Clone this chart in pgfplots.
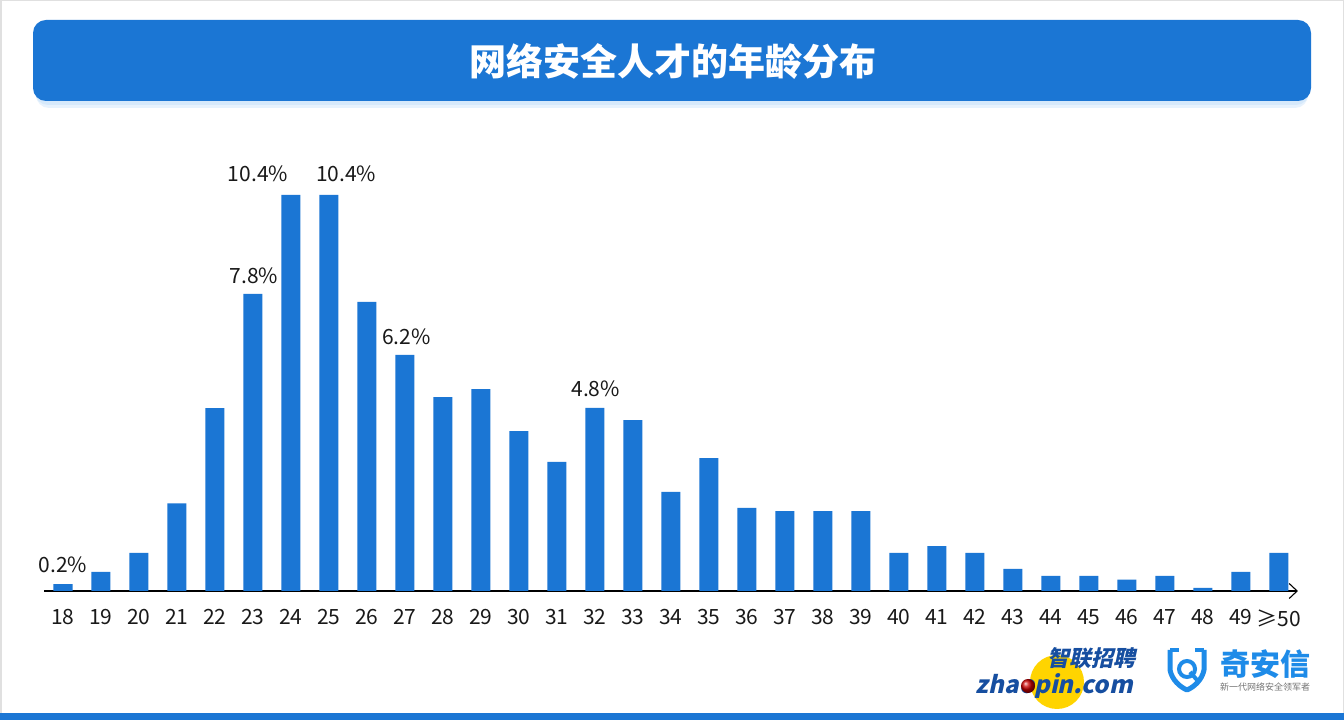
\documentclass[border=0pt]{standalone}
\usepackage{fontspec}
\setmainfont{Noto Sans CJK SC}
\usepackage{pgfplots}
\pgfplotsset{compat=1.18}
\usetikzlibrary{arrows.meta}

\definecolor{barblue}{RGB}{27,118,212}
\definecolor{shadowblue}{RGB}{214,233,251}
\definecolor{zpblue}{RGB}{22,78,160}
\definecolor{zpyellow}{RGB}{255,212,0}
\definecolor{qablue}{RGB}{30,139,232}

\begin{document}
\begin{tikzpicture}[x=1pt,y=1pt]
% page
\useasboundingbox (0,0) rectangle (1344,720);
\fill[white] (0,0) rectangle (1344,720);
\draw[black!12,line width=1.5pt] (0.75,0.75) rectangle (1343.25,719.25);
\fill[barblue] (0,0) rectangle (1344,7);

% title banner
\fill[shadowblue!60] (36,612) [rounded corners=13pt] rectangle (1308,692);
\fill[shadowblue] (35,615) [rounded corners=13pt] rectangle (1309,696);
\fill[barblue,rounded corners=13pt] (33,619) rectangle (1311,700);
\node[text=white,font=\fontsize{37}{42}\selectfont\bfseries] at (673,659) {网络安全人才的年龄分布};

\begin{axis}[
  at={(44pt,129pt)},anchor=south west,
  scale only axis,width=1254pt,height=457pt,
  xmin=-0.5,xmax=32.5,ymin=0,ymax=12,
  axis x line=bottom,axis y line=none,
  x axis line style={line width=1.3pt,-{Straight Barb[length=8pt,width=15pt,line width=1.1pt]}},
  xtick={0,...,32},
  xticklabels={18,19,20,21,22,23,24,25,26,27,28,29,30,31,32,33,34,35,36,37,38,39,40,41,42,43,44,45,46,47,48,49,≥50},
  major tick length=0pt,
  xticklabel style={font=\fontsize{21}{24}\selectfont,text=black!90,yshift=-15pt},
  clip=false,
]
\addplot[ybar,bar width=19pt,fill=barblue,draw=none] coordinates {
(0,0.18)(1,0.5)(2,1.0)(3,2.3)(4,4.8)(5,7.8)(6,10.4)(7,10.4)(8,7.59)(9,6.2)
(10,5.09)(11,5.3)(12,4.2)(13,3.39)(14,4.81)(15,4.49)(16,2.6)(17,3.49)(18,2.18)(19,2.1)
(20,2.1)(21,2.1)(22,1.0)(23,1.18)(24,1.0)(25,0.58)(26,0.4)(27,0.4)(28,0.3)(29,0.4)
(30,0.08)(31,0.5)(32,1.0)};
\begin{scope}[every node/.style={font=\fontsize{21}{24}\selectfont,text=black!90}]
\node at (axis cs:0,0.68) {0.2\%};
\node at (axis cs:5.13,10.95) {10.4\%};
\node at (axis cs:7.45,10.95) {10.4\%};
\node at (axis cs:5.02,8.27) {7.8\%};
\node at (axis cs:9.04,6.67) {6.2\%};
\node at (axis cs:14.02,5.31) {4.8\%};
\end{scope}
\end{axis}

% logos (approximate)
\fill[zpyellow] (1057,38) circle (27);
\node[inner sep=0pt,text=zpblue,font=\fontsize{22}{24}\selectfont\bfseries,xslant=0.22] at (1093,62) {智联招聘};
\node[inner sep=0pt,text=zpblue,font=\fontsize{24}{25}\selectfont\bfseries,xslant=0.22] at (1056,34) {zhaopin.com};
\shade[ball color=red!80!black] (1028,34) circle (7);

\begin{scope}[qablue]
\draw[line width=5pt,line join=round] (1170,70) -- (1170,50) .. controls (1172,40) and (1180,33) .. (1187,30)
  .. controls (1194,33) and (1202,40) .. (1204,50) -- (1204,70);
\draw[line width=4pt] (1170,70) -- (1179,70) (1195,70) -- (1204,70);
\draw[line width=4pt] (1187,51) circle (8);
\draw[line width=4pt] (1190,48) -- (1197,40);
\end{scope}
\node[text=qablue,font=\fontsize{30}{34}\selectfont\bfseries] at (1265,56) {奇安信};
\node[text=black!55,font=\fontsize{9}{10}\selectfont] at (1265,33) {新一代网络安全领军者};
\end{tikzpicture}
\end{document}
